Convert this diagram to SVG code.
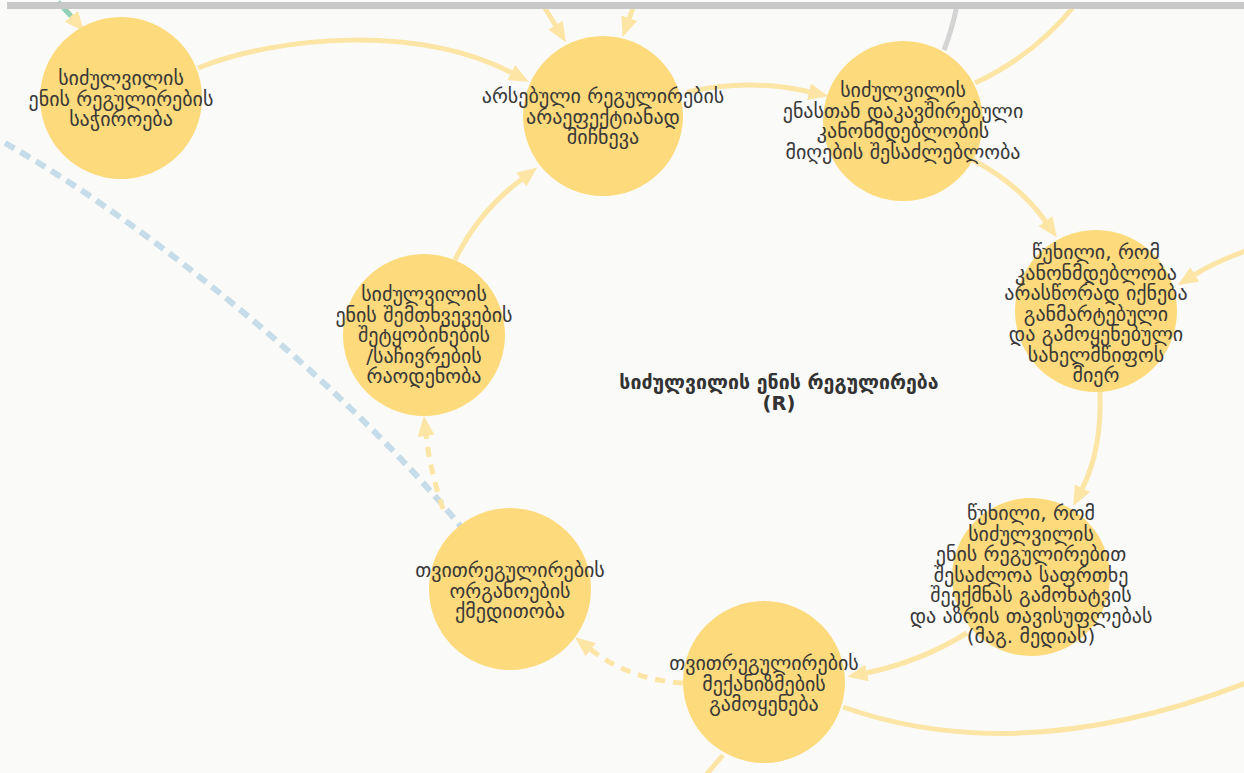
<svg xmlns="http://www.w3.org/2000/svg" width="1244" height="773" viewBox="0 0 1244 773">
<style>
.bg{fill:#fafaf8}
.node circle{fill:#fdda7b}
.node text{font-family:"DejaVu Sans",sans-serif;font-size:20px;fill:#383838;text-anchor:middle}
.e{fill:none;stroke:#fde5a5;stroke-width:5}
.d{stroke-dasharray:10 8}
.lbl{font-family:"DejaVu Sans",sans-serif;font-size:19.5px;font-weight:bold;fill:#333;text-anchor:middle}
</style>
<defs>
<marker id="ah" markerUnits="userSpaceOnUse" markerWidth="22" markerHeight="18" refX="1" refY="8.5" orient="auto">
<path d="M0,0 L20,8.5 L0,17 z" fill="#fde5a5"/>
</marker>
</defs>
<rect class="bg" x="0" y="0" width="1244" height="773"/>
<g id="connectors">
<path class="e" d="M5,143 C150,225 350,390 462,528" style="stroke:#c6dce8;stroke-width:6;stroke-dasharray:11 7"/>
<path class="e" d="M62,5 L72,17" marker-end="url(#ah)"/>
<path d="M58,2 L71,16" fill="none" stroke="#8fd1bb" stroke-width="5"/>
<path class="e" d="M198,68 C280,35 420,25 512,73" marker-end="url(#ah)"/>
<path class="e" d="M543,5 L556,26" marker-end="url(#ah)"/>
<path class="e" d="M634,5 L629,19" marker-end="url(#ah)"/>
<path class="e" d="M455,260 Q478,212 522,179" marker-end="url(#ah)"/>
<path class="e" d="M687,92 Q750,78 810,92" marker-end="url(#ah)"/>
<path d="M957,5 Q952,30 944,50" fill="none" stroke="#d4d4d4" stroke-width="5"/>
<path class="e" d="M975,83 Q1035,55 1075,5"/>
<path class="e" d="M973,160 Q1020,185 1046,222" marker-end="url(#ah)"/>
<path class="e" d="M1246,251 Q1215,262 1194,275" marker-end="url(#ah)"/>
<path class="e" d="M1100,392 Q1102,450 1082,489" marker-end="url(#ah)"/>
<path class="e" d="M967,633 Q920,662 866,673" marker-end="url(#ah)"/>
<path class="e" d="M843,707 Q1020,770 1246,683"/>
<path class="e d" d="M683,683 Q630,680 590,649" marker-end="url(#ah)"/>
<path class="e d" d="M443,509 Q430,470 426,435" marker-end="url(#ah)"/>
<path class="e" d="M723,755 L706,775"/>
</g>
<rect x="7" y="2" width="1237" height="7" fill="#c8c8c8"/>
<g id="n1" class="node"><circle cx="121" cy="98" r="81"/>
<text x="121" y="85">სიძულვილის</text><text x="121" y="105.5">ენის რეგულირების</text><text x="121" y="126">საჭიროება</text></g>
<g id="n2" class="node"><circle cx="603" cy="116" r="80"/>
<text x="603" y="103">არსებული რეგულირების</text><text x="603" y="123.5">არაეფექტიანად</text><text x="603" y="144">მიჩნევა</text></g>
<g id="n3" class="node"><circle cx="903" cy="121" r="80"/>
<text x="903" y="97">სიძულვილის</text><text x="903" y="117.5">ენასთან დაკავშირებული</text><text x="903" y="138">კანონმდებლობის</text><text x="903" y="158.5">მიღების შესაძლებლობა</text></g>
<g id="n4" class="node"><circle cx="1096" cy="311" r="81"/>
<text x="1096" y="259">წუხილი, რომ</text><text x="1096" y="279.5">კანონმდებლობა</text><text x="1096" y="300">არასწორად იქნება</text><text x="1096" y="320.5">განმარტებული</text><text x="1096" y="341">და გამოყენებული</text><text x="1096" y="361.5">სახელმწიფოს</text><text x="1096" y="382">მიერ</text></g>
<g id="n5" class="node"><circle cx="1031" cy="577" r="79"/>
<text x="1031" y="520">წუხილი, რომ</text><text x="1031" y="540.5">სიძულვილის</text><text x="1031" y="561">ენის რეგულირებით</text><text x="1031" y="581.5">შესაძლოა საფრთხე</text><text x="1031" y="602">შეექმნას გამოხატვის</text><text x="1031" y="622.5">და აზრის თავისუფლებას</text><text x="1031" y="643">(მაგ. მედიას)</text></g>
<g id="n6" class="node"><circle cx="764" cy="682" r="81"/>
<text x="764" y="670">თვითრეგულირების</text><text x="764" y="690.5">მექანიზმების</text><text x="764" y="711">გამოყენება</text></g>
<g id="n7" class="node"><circle cx="510" cy="589" r="81"/>
<text x="510" y="577">თვითრეგულირების</text><text x="510" y="597.5">ორგანოების</text><text x="510" y="618">ქმედითობა</text></g>
<g id="n8" class="node"><circle cx="424" cy="335" r="81"/>
<text x="424" y="301">სიძულვილის</text><text x="424" y="321.5">ენის შემთხვევების</text><text x="424" y="342">შეტყობინების</text><text x="424" y="362.5">/საჩივრების</text><text x="424" y="383">რაოდენობა</text></g>
<g id="center-label">
<text class="lbl" x="779" y="389">სიძულვილის ენის რეგულირება</text>
<text class="lbl" x="779" y="410">(R)</text>
</g>
</svg>
